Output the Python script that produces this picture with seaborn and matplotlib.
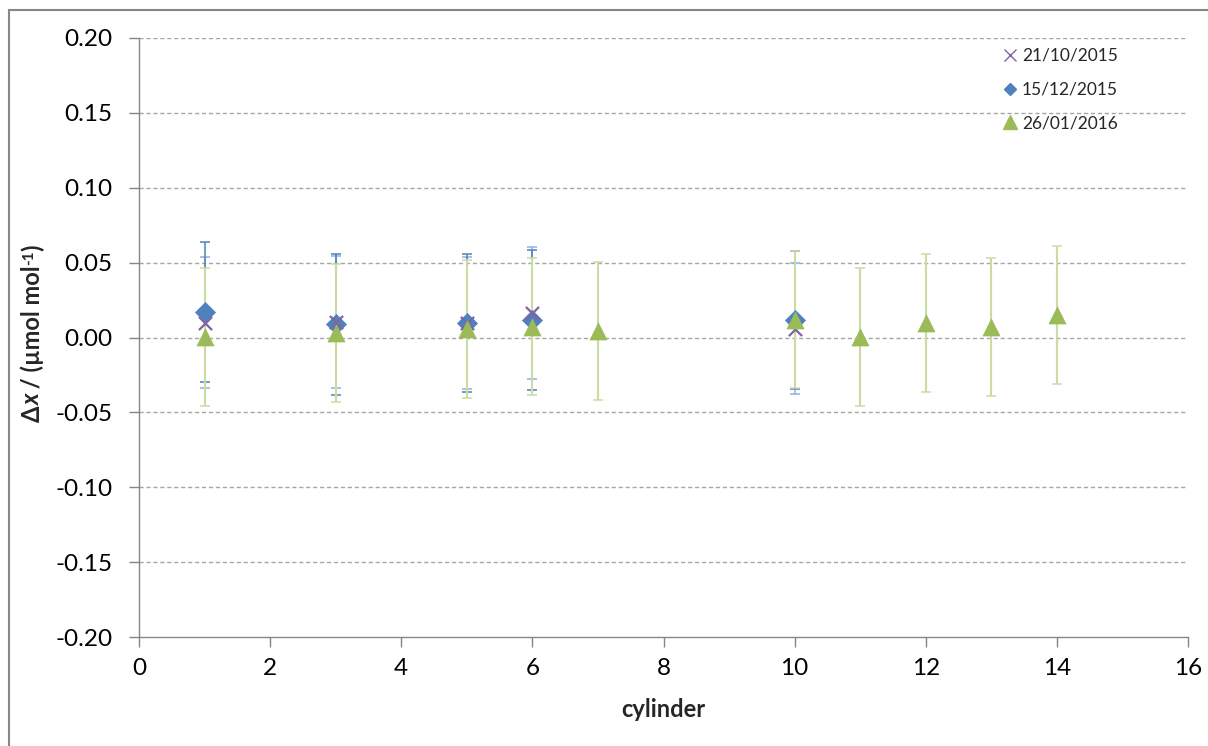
import numpy as np
import pandas as pd
import matplotlib
matplotlib.use("Agg")
import matplotlib.pyplot as plt
from matplotlib.patches import Rectangle
from matplotlib.lines import Line2D
import seaborn as sns

# Measured deviations per cylinder and measurement date
cyl_oct = [1, 3, 5, 6, 10]
dx_oct = [0.0100, 0.0106, 0.0099, 0.0166, 0.0060]
u_oct = [0.044, 0.044, 0.044, 0.044, 0.044]

cyl_dec = [1, 3, 5, 6, 10]
dx_dec = [0.0170, 0.0088, 0.0095, 0.0117, 0.0118]
u_dec = [0.047, 0.047, 0.046, 0.047, 0.046]

cyl_jan = [1, 3, 5, 6, 7, 10, 11, 12, 13, 14]
dx_jan = [0.0002, 0.0030, 0.0058, 0.0073, 0.0042, 0.0120, 0.0002, 0.0097, 0.0069, 0.0152]
u_jan = [0.046, 0.046, 0.046, 0.046, 0.046, 0.046, 0.046, 0.046, 0.046, 0.046]

labels = ["21/10/2015", "15/12/2015", "26/01/2016"]
y_ticks = [-0.20, -0.15, -0.10, -0.05, 0.00, 0.05, 0.10, 0.15, 0.20]
x_ticks = [0, 2, 4, 6, 8, 10, 12, 14, 16]

sns.set_style("white")
FAMILY = ["Lato", "DejaVu Sans"]
plt.rcParams["font.family"] = FAMILY

c_oct, c_dec, c_jan = "#8064A2", "#4F81BD", "#9BBB59"
e_oct, e_dec, e_jan = "#8DB3E2", "#4F81BD", "#CBDCA2"

df_oct = pd.DataFrame({"cylinder": cyl_oct, "dx": dx_oct, "u": u_oct})
df_dec = pd.DataFrame({"cylinder": cyl_dec, "dx": dx_dec, "u": u_dec})
df_jan = pd.DataFrame({"cylinder": cyl_jan, "dx": dx_jan, "u": u_jan})

W, H = 1208, 746
fig = plt.figure(figsize=(W / 100, H / 100), dpi=100)
ax = fig.add_axes([139 / W, 1 - 637 / H, (1188 - 139) / W, (637 - 38) / H])

# uncertainty bars
for d, ec, lw, z in [(df_oct, e_oct, 1.1, 2), (df_dec, e_dec, 1.1, 2.1), (df_jan, e_jan, 1.5, 2.2)]:
    ax.errorbar(d["cylinder"], d["dx"], yerr=d["u"], fmt="none", ecolor=ec,
                elinewidth=lw, capsize=3.3, capthick=1.1, zorder=z)

# markers
sns.scatterplot(data=df_dec, x="cylinder", y="dx", marker="D", s=105, color=c_dec,
                edgecolor=c_dec, linewidth=0.5, ax=ax, zorder=3)
sns.scatterplot(data=df_oct, x="cylinder", y="dx", marker="x", s=90, color=c_oct,
                linewidth=1.6, ax=ax, zorder=3.1)
sns.scatterplot(data=df_jan, x="cylinder", y="dx", marker="^", s=150, color=c_jan,
                edgecolor=c_jan, linewidth=0.5, ax=ax, zorder=3.2)

ax.set_xlim(0, 16)
ax.set_ylim(-0.20, 0.20)
ax.set_xticks(x_ticks)
ax.set_yticks(y_ticks)
ax.set_yticklabels([f"{v:.2f}" for v in y_ticks])
ax.set_xticklabels([str(v) for v in x_ticks])

for v in y_ticks[1:]:
    ax.axhline(v, color="#A6A6A6", lw=1.0, ls=(0, (3, 2)), zorder=1)

sns.despine(ax=ax, top=True, right=True)
for s in ["left", "bottom"]:
    ax.spines[s].set_color("#868686")
    ax.spines[s].set_linewidth(1.0)
ax.tick_params(axis="both", which="major", direction="out", length=7, width=1,
               color="#868686", labelsize=17.5, labelcolor="#000000", pad=12,
               left=True, bottom=True)
ax.tick_params(axis="x", pad=8)

ax.set_xlabel("cylinder", fontsize=17, fontweight="bold", labelpad=14)
ax.set_ylabel("")

# y-axis title, set piece by piece so the x is italic and all of it bold
renderer = fig.canvas.get_renderer()
pieces = [("Δ", "normal", 17, 0), ("x", "italic", 17, 0), (" / (µmol mol", "normal", 17, 0),
          ("-1", "normal", 11, 7), (")", "normal", 17, 0)]
texts = []
for s, style, size, rise in pieces:
    t = fig.text(0, 0, s, rotation=90, rotation_mode="anchor", ha="left", va="baseline",
                 fontsize=size, fontweight="bold", fontstyle=style, family=FAMILY,
                 transform=None)
    texts.append((t, rise))
lengths = [t.get_window_extent(renderer).height for t, _ in texts]
total = sum(lengths)
base_x = 40
y_start = (H - 333) - total / 2
for (t, rise), L in zip(texts, lengths):
    t.set_position((base_x - rise, y_start))
    y_start += L

handles = [
    Line2D([], [], ls="none", marker="x", color=c_oct, ms=9, mew=1.0),
    Line2D([], [], ls="none", marker="D", color=c_dec, ms=6.5),
    Line2D([], [], ls="none", marker="^", color=c_jan, ms=10),
]
ax.legend(handles, labels, loc="upper left", bbox_to_anchor=(996 / W, 1 - 41 / H),
          bbox_transform=fig.transFigure, frameon=False, fontsize=12.5,
          handlelength=0.8, handletextpad=0.3, labelspacing=1.02, borderaxespad=0)

# outer chart frame
fig.add_artist(Rectangle((9 / W, -0.2), 1.5, 1.2 - 10 / H, transform=fig.transFigure,
                         fill=False, edgecolor="#868686", linewidth=1.5))

fig.savefig("out.png", dpi=100)
